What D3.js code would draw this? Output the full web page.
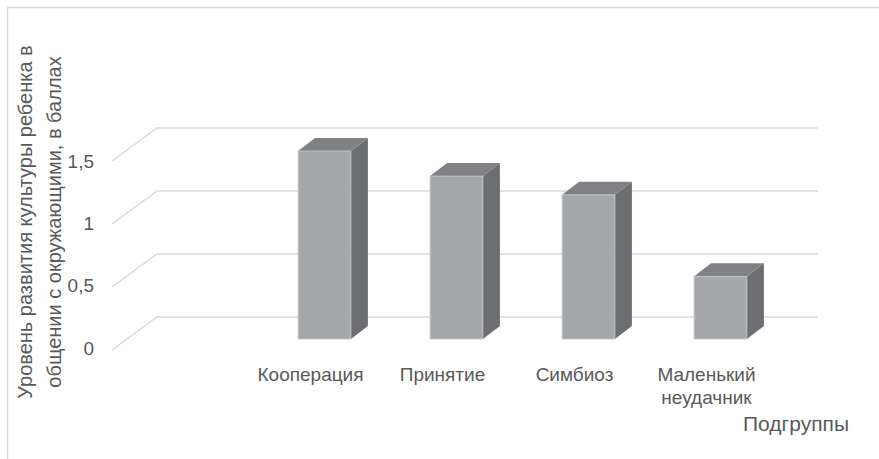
<!DOCTYPE html>
<html>
<head>
<meta charset="utf-8">
<script src="https://cdn.jsdelivr.net/npm/d3@7/dist/d3.min.js"></script>
<style>
  html, body { margin: 0; padding: 0; background: #fff; }
  svg { display: block; }
  text { font-family: "Liberation Sans", Arial, sans-serif; fill: #595959; }
</style>
</head>
<body>
<svg id="chart" width="879" height="459"></svg>
<script>
const categories = [["Кооперация"], ["Принятие"], ["Симбиоз"], ["Маленький", "неудачник"]];
const values = [1.5, 1.3, 1.15, 0.5];
const yTicks = [0, 0.5, 1, 1.5];
const yTickLabels = ["0", "0,5", "1", "1,5"];
const yTitle = ["Уровень развития культуры ребенка в", "общении с окружающими, в баллах"];
const xTitle = "Подгруппы";

const svg = d3.select("#chart");
const W = 879, H = 459;

// chart border (cropped at right/bottom)
svg.append("rect").attr("x", 7.5).attr("y", 7.5).attr("width", W + 20).attr("height", H + 20)
  .attr("fill", "none").attr("stroke", "#d9d9d9").attr("stroke-width", 1.5);

// scales
const keys = categories.map(c => c.join(" "));
const xBar = d3.scaleBand().domain(keys).range([258.5, 786.5]).paddingInner(0.6).paddingOuter(0.3);
const yBar = d3.scaleLinear().domain([0, 1.5]).range([339, 151]);
const yBack = d3.scaleLinear().domain([0, 1.5]).range([317, 128]);
const yFront = d3.scaleLinear().domain([0, 1.5]).range([348, 161]);
const wallLeft = 157, wallRight = 818, floorDX = 45, floorDY = 33;
const depthDX = 17, depthDY = 13;

// gridlines (back wall + side diagonal)
svg.append("g").selectAll("path").data(yTicks).join("path")
  .attr("d", d => `M${wallLeft - floorDX},${yBack(d) + floorDY} L${wallLeft},${yBack(d)} L${wallRight},${yBack(d)}`)
  .attr("fill", "none").attr("stroke", "#d9d9d9").attr("stroke-width", 1.5);

// tick labels
svg.append("g").selectAll("text").data(yTicks).join("text")
  .attr("x", 94).attr("y", d => yFront(d)).attr("dy", "0.35em")
  .attr("text-anchor", "end").attr("font-size", 19)
  .text((d, i) => yTickLabels[i]);

// bars
const bars = svg.append("g").selectAll("g").data(values).join("g");
const bw = xBar.bandwidth();
bars.append("path") // side
  .attr("d", (d, i) => {
    const x1 = xBar(keys[i]) + bw, yt = yBar(d), yb = yBar(0);
    return `M${x1},${yt} L${x1 + depthDX},${yt - depthDY} L${x1 + depthDX},${yb - depthDY} L${x1},${yb} Z`;
  })
  .attr("fill", "#6d6e72");
bars.append("path") // top
  .attr("d", (d, i) => {
    const x0 = xBar(keys[i]), yt = yBar(d);
    return `M${x0},${yt} L${x0 + depthDX},${yt - depthDY} L${x0 + bw + depthDX},${yt - depthDY} L${x0 + bw},${yt} Z`;
  })
  .attr("fill", "#808185");
bars.append("rect") // front
  .attr("x", (d, i) => xBar(keys[i]))
  .attr("y", d => yBar(d))
  .attr("width", bw)
  .attr("height", d => yBar(0) - yBar(d))
  .attr("fill", "#a6a7aa").attr("stroke", "#c4c5c7").attr("stroke-width", 0.8);

// category labels
const labelShift = -14;
const cat = svg.append("g").selectAll("text").data(categories).join("text")
  .attr("text-anchor", "middle").attr("font-size", 19)
  .attr("transform", (d, i) => `translate(${xBar(keys[i]) + bw / 2 + labelShift},381)`);
cat.selectAll("tspan").data(d => d).join("tspan")
  .attr("x", 0).attr("dy", (d, j) => j === 0 ? 0 : 23).text(d => d);

// axis titles
svg.append("text").attr("x", 796).attr("y", 431).attr("text-anchor", "middle")
  .attr("font-size", 21).text(xTitle);
svg.append("text").attr("text-anchor", "middle").attr("font-size", 20)
  .attr("transform", "translate(32,222) rotate(-90)")
  .selectAll("tspan").data(yTitle).join("tspan")
  .attr("x", 0).attr("dy", (d, j) => j === 0 ? 0 : 29).text(d => d);
</script>
</body>
</html>
